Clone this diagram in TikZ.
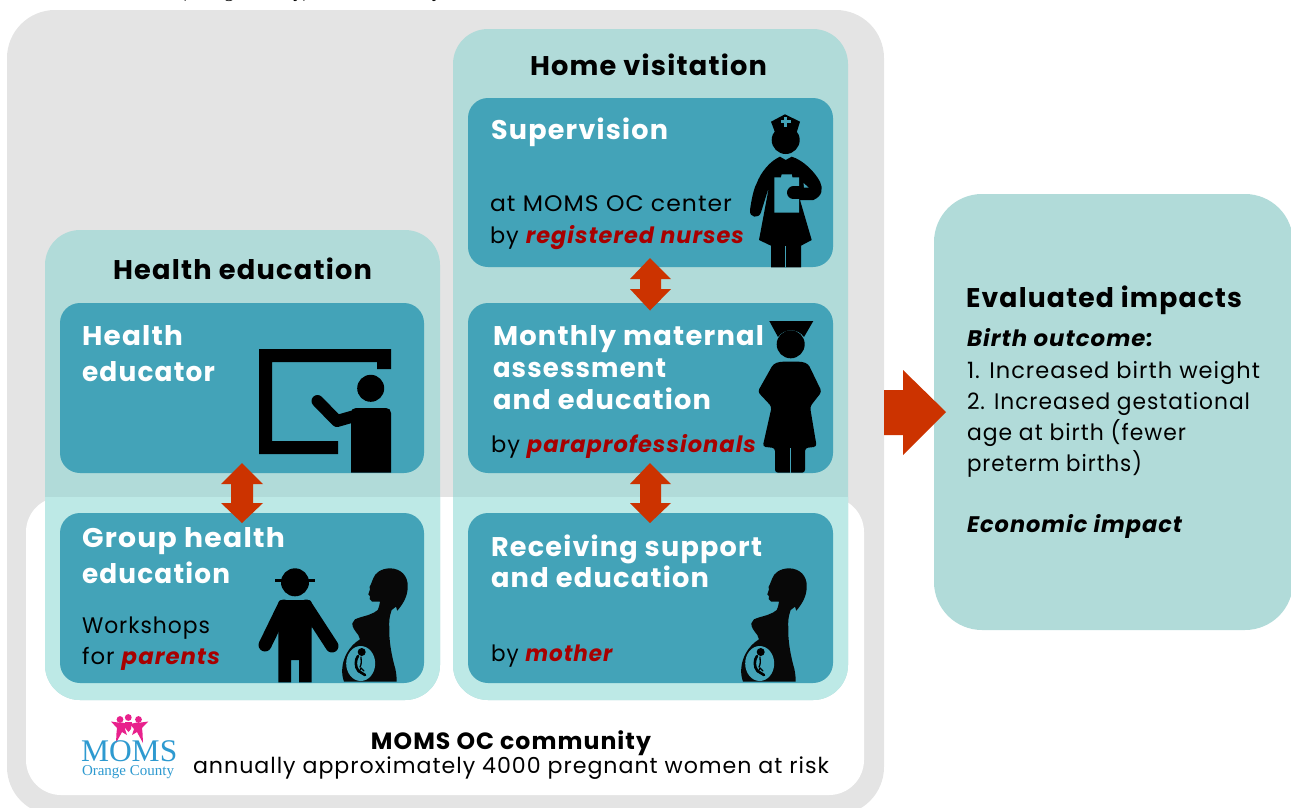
\documentclass[tikz,border=0pt]{standalone}
\usepackage{fontspec}
\setmainfont[LetterSpace=4.5]{Poppins}
\newfontfamily\logofont{Liberation Serif}
\definecolor{greybg}{HTML}{E4E4E4}
\definecolor{panel}{HTML}{B1DBD9}
\definecolor{panellight}{HTML}{BDE9E6}
\definecolor{dark}{HTML}{43A3B8}
\definecolor{arrowred}{HTML}{CC3300}
\definecolor{wordred}{HTML}{A80000}
\definecolor{logoblue}{HTML}{2E9AD0}
\definecolor{logopink}{HTML}{E8218C}
\newcommand{\fs}[1]{\fontsize{#1}{#1}\selectfont}
\newcommand{\rw}[1]{\textcolor{wordred}{\textbf{\textit{#1}}}}
\newcommand{\W}[2]{\resizebox{#1pt}{\height}{#2}}
\tikzset{
  x=1pt,y=-1pt,
  txt/.style={anchor=base west,inner sep=0pt,outer sep=0pt,yshift=1pt},
  head/.style={txt,font=\fs{27}\bfseries,text=black},
  boxhead/.style={txt,font=\fs{27}\bfseries,text=white},
  body/.style={txt,font=\fs{22.5},text=black},
  sub/.style={txt,font=\fs{22.5}\bfseries\itshape,text=black},
  darkbox/.style={fill=dark,rounded corners=20pt},
  panelbox/.style={rounded corners=35pt},
  redarrow/.style={fill=arrowred},
  sil/.style={fill=black},
  pics/woman/.style={code={
    \fill[black!97] (390,568.3) .. controls (401,568.5) and (408,576) .. (407.7,586)
      .. controls (408,596) and (403,604) .. (397.3,610.7) -- (396,606.7) -- (391.7,610)
      .. controls (389.5,616) and (389,620) .. (389.3,628) .. controls (389,640) and (391,652) .. (394,664)
      .. controls (396,670) and (396.7,676) .. (396.7,681.7)
      -- (344,681.7) .. controls (342,676) and (342,672) .. (342.3,668)
      .. controls (343,658) and (349,646) .. (360,639.3)
      -- (358.3,635) .. controls (355,631) and (352,627) .. (352.3,623.3)
      -- (355,619.3) .. controls (360,617) and (364,616.5) .. (368.3,615)
      .. controls (373,613) and (376,612) .. (377.7,610) .. controls (379.5,606) and (379.5,604) .. (380,601.7)
      -- (372,601.5) .. controls (369.5,600.5) and (369,598) .. (370,596) -- (368.3,594.5) -- (370,589.3) -- (369.5,587)
      .. controls (372,583) and (372,580) .. (373.3,578.3) .. controls (375,573) and (381,568.5) .. (390,568.3) -- cycle;
    \fill[dark] (360.7,663.5) ellipse[x radius=14.5,y radius=17.5];
    \fill[black] (361.7,652) circle[radius=4];
    \draw[black,line width=2.6pt,line cap=round] (358,656) .. controls (355,660) and (355,667) .. (358.5,671) -- (365,675);
    \draw[black,line width=1.3pt,line cap=round] (361,657) .. controls (361,660) and (362,664) .. (360,667);
    \draw[black,line width=1.2pt,line cap=round] (359,672) -- (361,668) -- (364,671);
  }}
}
\begin{document}
\begin{tikzpicture}
\useasboundingbox (0,0) rectangle (1291,807);
\clip (0,0) rectangle (1291,807);
% clipped caption remnant
\node[txt,font=\logofont\fs{19},text=black] (cap1) at (180,-2) {(Orange County)};
\node[txt,font=\logofont\fs{19},text=black] (cap2) at (432,-2) {y};
% backgrounds
\fill[greybg,rounded corners=48pt] (7,10) rectangle (884,815);
\fill[white,rounded corners=35pt] (26,497) rectangle (864,795);
\fill[panel,panelbox] (45,230) rectangle (440,700);
\fill[panel,panelbox] (453,29) rectangle (848,700);
\begin{scope}
\clip (26,497) rectangle (864,795);
\fill[panellight,panelbox] (45,230) rectangle (440,700);
\fill[panellight,panelbox] (453,29) rectangle (848,700);
\end{scope}
\fill[panel,rounded corners=48pt] (934,194) rectangle (1293,630);
% dark boxes
\fill[darkbox] (468,98) rectangle (833,267);
\fill[darkbox] (468,303) rectangle (833,473);
\fill[darkbox] (468,513) rectangle (833,683);
\fill[darkbox] (60,303) rectangle (424,473);
\fill[darkbox] (60,513) rectangle (424,683);
% red arrows
\fill[redarrow] (650,258) -- (671,279) -- (661,279) -- (661,289) -- (671,289) -- (650,310.5) -- (630,289) -- (640,289) -- (640,279) -- (630,279) -- cycle;
\fill[redarrow] (650,463) -- (671,484) -- (661,484) -- (661,503) -- (671,503) -- (650,523) -- (630,503) -- (640,503) -- (640,484) -- (630,484) -- cycle;
\fill[redarrow] (242,463) -- (263,484) -- (253,484) -- (253,503) -- (263,503) -- (242,523) -- (221,503) -- (231,503) -- (231,484) -- (221,484) -- cycle;
\fill[redarrow] (884,390) -- (903,390) -- (903,370) -- (946,412) -- (903,455) -- (903,435) -- (884,435) -- cycle;
% teacher
\fill[sil] (259,349) -- (391,349) -- (391,369) -- (377,369) -- (377,362) -- (272,362) -- (272,441) -- (338,441) -- (338,454) -- (259,454) -- cycle;
\fill[sil] (370.7,388.3) circle[radius=13.5];
\draw[black,line width=12pt,line cap=round,line join=round] (317.5,401) -- (337,421) -- (358,415);
\fill[sil] (351,472.7) -- (351,413) .. controls (351,410) and (353,408) .. (356,408) -- (386,408) .. controls (389,408) and (391,410) .. (391,413) -- (391,472.7) -- cycle;
% man
\fill[sil] (295,582.3) circle[radius=14];
\fill[sil] (275,578.7) rectangle (314.5,582);
\draw[black,line width=13pt,line cap=round] (284,606) -- (265,645);
\draw[black,line width=13pt,line cap=round] (306,606) -- (332,646);
\fill[sil,rounded corners=3pt] (278.3,630) -- (278.3,600) -- (311.7,600) -- (311.7,630) -- cycle;
\fill[sil] (278.3,682.3) -- (278.3,620) -- (311.7,620) -- (311.7,682.3) -- (299,682.3) -- (299,660) -- (291,660) -- (291,682.3) -- cycle;
\pic {woman};
\pic[shift={(399,0)}] {woman};
% nurse
\fill[sil] (785.7,140) circle[radius=14];
\fill[sil] (771,121.7) -- (785,114.3) -- (800,121.7) -- (796.7,132.3) -- (775,132.3) -- cycle;
\fill[dark] (784,116.7) rectangle (787.4,126.7);
\fill[dark] (780.7,120) rectangle (790.7,123.4);
\fill[sil] (780,156.7) -- (785.7,160) -- (791.7,156.7) .. controls (803,160) and (815,172) .. (820,181.7)
  .. controls (823,188) and (823,196) .. (813.3,200) -- (800,200) -- (811.7,240) -- (801,245.7) -- (801,267.3) -- (771,267.3) -- (771,245.7) -- (759,240) -- (769,186.7)
  -- (761,212.3) .. controls (759,219) and (749,218) .. (750,210) .. controls (752,195) and (755,186) .. (756.7,183.3) .. controls (761,172) and (770,161) .. (780,156.7) -- cycle;
\fill[dark] (774.3,177.3) -- (781,177.3) -- (781.7,174.3) -- (791.7,174.3) -- (792.4,177.3) -- (799,177.3) -- (799,212.7) -- (774.3,212.7) -- cycle;
\draw[black,line width=13pt,line cap=round] (793.5,192.8) -- (812,192.8);
\fill[dark] (803.5,183) -- (804,187.5) -- (808.5,187.5) -- cycle;
\fill[dark] (785.2,245.7) rectangle (786.2,268);
% graduate
\fill[sil] (769.3,321) -- (813.3,321) -- (804,337) .. controls (798,328) and (784,328) .. (778,337) -- cycle;
\fill[sil] (790.7,344.3) circle[radius=14];
\fill[sil,rounded corners=3pt] (780,361.7) -- (802,361.7) -- (808.3,364) -- (821.7,391.7) -- (810,406.7) -- (816.7,446.7) -- (805,448) -- (805,472.7) -- (775,472.7) -- (775,448) -- (762.7,446.7) -- (771.7,406.7) -- (757.7,391.7) -- (773.3,364) -- cycle;
\fill[dark] (789.7,448) rectangle (790.7,473);
% logo
\foreach \cx/\cy in {120/719.5,128.3/717.5,138.5/719.5}{
  \fill[logopink] (\cx,\cy) circle[radius=3.4];
}
\fill[logopink] (111,721.5) -- (118,722.5) -- (122,722.5) -- (129,724) -- (125,729) -- (127,735) -- (122,732) -- (116,743) -- (116.5,733) -- (117,728) -- cycle;
\fill[logopink] (148.3,721.5) -- (141,722.5) -- (137,722.5) -- (130,724) -- (134,729) -- (132,735) -- (137,732) -- (143,743) -- (142.5,733) -- (142,728) -- cycle;
\fill[logopink] (125,722) -- (132,722) -- (131,729) -- (128.5,732) -- (126,729) -- cycle;
\node[txt,font=\logofont\fs{31.5},text=logoblue] (logo1) at (81,762) {MOMS};
\node[txt,font=\logofont\fs{15},text=logoblue] (logo2) at (82,776.5) {Orange County};
% texts
\node[head] (t1) at (530,76) {\W{237}{Home visitation}};
\node[boxhead] (t2) at (491,140) {\W{177}{Supervision}};
\node[body] (t3) at (490,212) {\W{242}{at MOMS OC center}};
\node[body] (t4) at (490,244) {\W{255}{by \rw{registered nurses}}};
\node[boxhead] (t5) at (493,346) {\W{271}{Monthly maternal}};
\node[boxhead] (t6) at (493,378) {\W{173}{assessment}};
\node[boxhead] (t7) at (493,410) {\W{218}{and education}};
\node[body] (t8) at (491,453) {\W{266}{by \rw{paraprofessionals}}};
\node[boxhead] (t9) at (491,557) {\W{271}{Receiving support}};
\node[boxhead] (t10) at (491,588) {\W{218}{and education}};
\node[body] (t11) at (491,662) {\W{123}{by \rw{mother}}};
\node[head] (t12) at (113,280) {\W{259}{Health education}};
\node[boxhead] (t13) at (82,346) {\W{101}{Health}};
\node[boxhead] (t14) at (82,382) {\W{133}{educator}};
\node[boxhead] (t15) at (82,548) {\W{203}{Group health}};
\node[boxhead] (t16) at (82,584) {\W{148}{education}};
\node[body] (t17) at (82,634) {\W{128}{Workshops}};
\node[body] (t18) at (82,665) {\W{139}{for \rw{parents}}};
\node[txt,anchor=base,font=\fs{23.5}\bfseries] (t19) at (511,750) {\W{280}{MOMS OC community}};
\node[txt,anchor=base,font=\fs{22}] (t20) at (511,774) {\W{636}{annually approximately 4000 pregnant women at risk}};
\node[head] (t21) at (966,308) {\W{276}{Evaluated impacts}};
\node[sub] (t22) at (967,347) {\W{186}{Birth outcome:}};
\node[body] (t23) at (967,379) {\W{293}{1. Increased birth weight}};
\node[body] (t24) at (967,410) {\W{283}{2. Increased gestational}};
\node[body] (t25) at (967,441) {\W{219}{age at birth (fewer}};
\node[body] (t26) at (967,472) {\W{175}{preterm births)}};
\node[sub] (t27) at (967,533) {\W{215}{Economic impact}};
\end{tikzpicture}
\end{document}
